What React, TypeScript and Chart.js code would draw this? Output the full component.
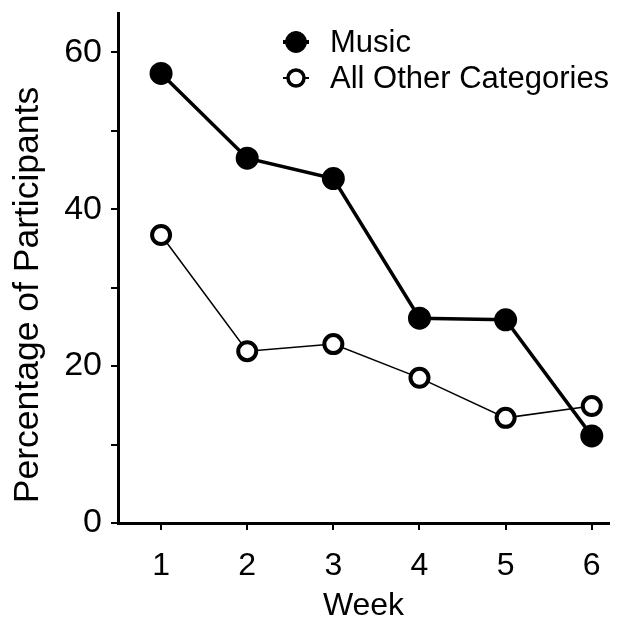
import { useEffect, useRef } from 'react';
import { Chart, registerables } from 'chart.js';

Chart.register(...registerables);

const weeks = [1, 2, 3, 4, 5, 6];
const musicValues = [57.3, 46.5, 43.9, 26.1, 25.9, 11.1];
const otherValues = [36.7, 21.9, 22.8, 18.5, 13.4, 14.9];
const seriesLabels = ['Music', 'All Other Categories'];
const yLabelledTicks = [0, 20, 40, 60];
const xTitle = 'Week';
const yTitle = 'Percentage of Participants';

const FONT = "'Liberation Sans', Arial, Helvetica, sans-serif";

const legendPlugin = {
  id: 'lineLegend',
  afterDraw(chart: any) {
    const ctx = chart.ctx;
    ctx.save();
    chart.data.datasets.forEach((ds: any, i: number) => {
      const cy = 42 + i * 36;
      const cx = 296;
      ctx.strokeStyle = '#000';
      ctx.lineWidth = ds.legendLineWidth;
      ctx.beginPath();
      ctx.moveTo(283, cy);
      ctx.lineTo(309, cy);
      ctx.stroke();
      ctx.beginPath();
      ctx.arc(cx, cy, ds.legendRadius, 0, Math.PI * 2);
      ctx.fillStyle = ds.pointBackgroundColor;
      ctx.fill();
      ctx.lineWidth = ds.legendBorder;
      ctx.stroke();
      ctx.fillStyle = '#000';
      ctx.font = `31px ${FONT}`;
      ctx.textAlign = 'left';
      ctx.textBaseline = 'middle';
      ctx.fillText(ds.label, 330, cy + 1);
    });
    ctx.restore();
  },
};

const yTitlePlugin = {
  id: 'yTitle',
  afterDraw(chart: any) {
    const ctx = chart.ctx;
    ctx.save();
    ctx.translate(28, 295);
    ctx.rotate(-Math.PI / 2);
    ctx.fillStyle = '#000';
    ctx.font = `35.5px ${FONT}`;
    ctx.textAlign = 'center';
    ctx.textBaseline = 'middle';
    ctx.fillText(yTitle, 0, 0);
    ctx.restore();
  },
};

export default function App() {
  const ref = useRef<HTMLCanvasElement | null>(null);

  useEffect(() => {
    document.body.style.margin = '0';
    const canvas = ref.current;
    if (!canvas) return;
    const chart = new Chart(canvas, {
      type: 'line',
      data: {
        datasets: [
          {
            label: seriesLabels[0],
            data: weeks.map((w, i) => ({ x: w, y: musicValues[i] })),
            borderColor: '#000',
            borderWidth: 3.5,
            pointRadius: 10.5,
            pointBorderWidth: 2,
            pointBackgroundColor: '#000',
            pointBorderColor: '#000',
            legendRadius: 10.5,
            legendBorder: 1,
            legendLineWidth: 4,
          } as any,
          {
            label: seriesLabels[1],
            data: weeks.map((w, i) => ({ x: w, y: otherValues[i] })),
            borderColor: '#000',
            borderWidth: 1.5,
            pointRadius: 9,
            pointBorderWidth: 4,
            pointBackgroundColor: '#fff',
            pointBorderColor: '#000',
            legendRadius: 8,
            legendBorder: 3.5,
            legendLineWidth: 2,
          } as any,
        ],
      },
      options: {
        responsive: false,
        animation: false,
        devicePixelRatio: 1,
        layout: { padding: { left: 0, top: 10, right: 10, bottom: 0 } },
        plugins: {
          legend: { display: false },
          tooltip: { enabled: false },
        },
        scales: {
          x: {
            type: 'linear',
            min: 0.5,
            max: 6.2,
            afterFit: (s: any) => {
              s.height = 96;
              s.paddingLeft = 0;
              s.paddingRight = 0;
            },
            border: { display: true, color: '#000', width: 3 },
            grid: {
              drawOnChartArea: false,
              drawTicks: true,
              tickLength: 7,
              color: '#000',
              lineWidth: 2,
            },
            ticks: {
              stepSize: 1,
              includeBounds: false,
              color: '#000',
              padding: 17,
              maxRotation: 0,
              font: { size: 32, family: FONT },
            },
            title: {
              display: true,
              text: xTitle,
              color: '#000',
              font: { size: 32, family: FONT, lineHeight: 0.8 },
              padding: 0,
            },
          },
          y: {
            type: 'linear',
            min: 0,
            max: 65,
            afterFit: (s: any) => {
              s.width = 118;
              s.paddingTop = 0;
              s.paddingBottom = 0;
            },
            border: { display: true, color: '#000', width: 3 },
            grid: {
              drawOnChartArea: false,
              drawTicks: true,
              tickLength: 7,
              color: '#000',
              lineWidth: 2,
            },
            ticks: {
              stepSize: 10,
              includeBounds: false,
              color: '#000',
              padding: 9,
              autoSkip: false,
              font: { size: 34, family: FONT },
              callback: (v: any) => (yLabelledTicks.includes(Number(v)) ? String(v) : ''),
            },
          },
        },
      },
      plugins: [legendPlugin, yTitlePlugin],
    });
    return () => chart.destroy();
  }, []);

  return (
    <div style={{ position: 'absolute', left: 0, top: 0, width: 622, height: 619 }}>
      <canvas ref={ref} width={622} height={619} style={{ display: 'block' }} />
    </div>
  );
}
